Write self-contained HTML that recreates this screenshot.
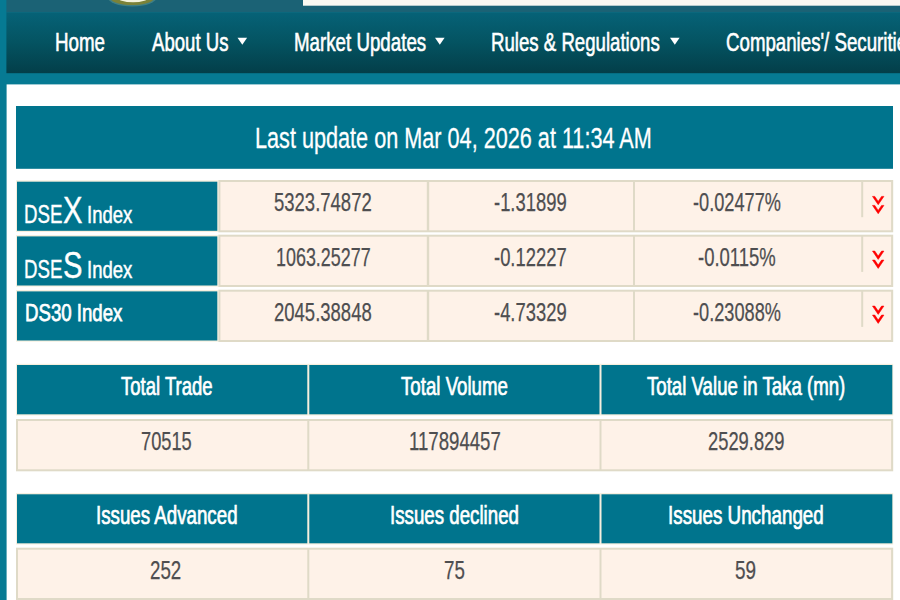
<!DOCTYPE html>
<html><head><meta charset="utf-8">
<style>
html,body{margin:0;padding:0;}
body{width:900px;height:600px;overflow:hidden;position:relative;background:#067a93;font-family:"Liberation Sans",sans-serif;}
svg.bg{position:absolute;left:0;top:0;}
.t{position:absolute;white-space:nowrap;transform-origin:0 0;line-height:1;}
.w{color:#fff;}
.g{color:#4e4e50;}
</style></head><body>
<svg class="bg" width="900" height="600" viewBox="0 0 900 600">
<defs><linearGradient id="ng" x1="0" y1="0" x2="0" y2="1"><stop offset="0" stop-color="#066277"/><stop offset="0.5" stop-color="#045361"/><stop offset="1" stop-color="#033e49"/></linearGradient></defs>
<rect x="6.4" y="0" width="893.60" height="12.50" fill="#1b6275"/>
<rect x="303" y="0" width="597.00" height="5.70" fill="#fbf9f2"/>
<ellipse cx="132.2" cy="-3" rx="24.8" ry="9.4" fill="#3f7f84"/><ellipse cx="132.2" cy="-3" rx="22.8" ry="8" fill="#7b8238"/><ellipse cx="133" cy="-3" rx="16" ry="5.3" fill="#f4f3dc"/>
<rect x="6.4" y="12.5" width="893.60" height="60.70" fill="url(#ng)"/>
<rect x="6.6" y="84.4" width="893.40" height="515.60" fill="#fff"/>
<path d="M237.5 37.8 h9.6 l-4.8 7 z" fill="#ffffff"/>
<path d="M435 37.8 h9.6 l-4.8 7 z" fill="#ffffff"/>
<path d="M670 37.8 h9.6 l-4.8 7 z" fill="#ffffff"/>
<rect x="16" y="106" width="877.00" height="62.80" fill="#00748d"/>
<rect x="16" y="180.3" width="202.00" height="51.70" fill="#f6efde"/>
<rect x="17" y="181.7" width="200.30" height="49.10" fill="#00748d"/>
<rect x="218.3" y="180" width="674.90" height="52.30" fill="#dfdac7"/>
<rect x="220.4" y="182" width="670.70" height="48.30" fill="#fef2e8"/>
<rect x="426.8" y="181" width="2.40" height="50.30" fill="#dfdac7"/>
<rect x="633" y="181" width="2.00" height="50.30" fill="#dfdac7"/>
<rect x="861.2" y="181" width="2.00" height="36.20" fill="#dfdac7"/>
<path transform="translate(871,195.5)" d="M1.5 0.9 h2.3 L7.2 5.90 L10.6 0.9 h2.3 L7.2 9.20 z M1.5 9.9 h2.3 L7.2 14.90 L10.6 9.9 h2.3 L7.2 18.20 z" fill="#ff0000" stroke="#ff0000" stroke-width="0.6" stroke-linejoin="round"/>
<rect x="16" y="235.0" width="202.00" height="51.70" fill="#f6efde"/>
<rect x="17" y="236.39999999999998" width="200.30" height="49.10" fill="#00748d"/>
<rect x="218.3" y="234.7" width="674.90" height="52.30" fill="#dfdac7"/>
<rect x="220.4" y="236.7" width="670.70" height="48.30" fill="#fef2e8"/>
<rect x="426.8" y="235.7" width="2.40" height="50.30" fill="#dfdac7"/>
<rect x="633" y="235.7" width="2.00" height="50.30" fill="#dfdac7"/>
<rect x="861.2" y="235.7" width="2.00" height="36.20" fill="#dfdac7"/>
<path transform="translate(871,250.2)" d="M1.5 0.9 h2.3 L7.2 5.90 L10.6 0.9 h2.3 L7.2 9.20 z M1.5 9.9 h2.3 L7.2 14.90 L10.6 9.9 h2.3 L7.2 18.20 z" fill="#ff0000" stroke="#ff0000" stroke-width="0.6" stroke-linejoin="round"/>
<rect x="16" y="290.0" width="202.00" height="51.70" fill="#f6efde"/>
<rect x="17" y="291.4" width="200.30" height="49.10" fill="#00748d"/>
<rect x="218.3" y="289.7" width="674.90" height="52.30" fill="#dfdac7"/>
<rect x="220.4" y="291.7" width="670.70" height="48.30" fill="#fef2e8"/>
<rect x="426.8" y="290.7" width="2.40" height="50.30" fill="#dfdac7"/>
<rect x="633" y="290.7" width="2.00" height="50.30" fill="#dfdac7"/>
<rect x="861.2" y="290.7" width="2.00" height="36.20" fill="#dfdac7"/>
<path transform="translate(871,305.2)" d="M1.5 0.9 h2.3 L7.2 5.90 L10.6 0.9 h2.3 L7.2 9.20 z M1.5 9.9 h2.3 L7.2 14.90 L10.6 9.9 h2.3 L7.2 18.20 z" fill="#ff0000" stroke="#ff0000" stroke-width="0.6" stroke-linejoin="round"/>
<rect x="16" y="363.8" width="877.20" height="51.70" fill="#f6efde"/>
<rect x="17" y="365" width="290.30" height="49.30" fill="#00748d"/>
<rect x="309.3" y="365" width="290.20" height="49.30" fill="#00748d"/>
<rect x="601.5" y="365" width="290.80" height="49.30" fill="#00748d"/>
<rect x="16" y="419" width="877.20" height="52.30" fill="#dfdac7"/>
<rect x="18" y="421" width="873.10" height="48.30" fill="#fef2e8"/>
<rect x="307.3" y="420" width="2.00" height="50.30" fill="#dfdac7"/>
<rect x="599.5" y="420" width="2.00" height="50.30" fill="#dfdac7"/>
<rect x="16" y="493.1" width="877.20" height="51.40" fill="#f6efde"/>
<rect x="17" y="494.3" width="290.30" height="49.00" fill="#00748d"/>
<rect x="309.3" y="494.3" width="290.20" height="49.00" fill="#00748d"/>
<rect x="601.5" y="494.3" width="290.80" height="49.00" fill="#00748d"/>
<rect x="16" y="547.7" width="877.20" height="52.30" fill="#dfdac7"/>
<rect x="18" y="549.7" width="873.10" height="48.30" fill="#fef2e8"/>
<rect x="307.3" y="548.7" width="2.00" height="50.30" fill="#dfdac7"/>
<rect x="599.5" y="548.7" width="2.00" height="50.30" fill="#dfdac7"/>
</svg>
<div class="t w" style="left:54.90px;top:29.39px;font-size:26.0px;transform:scaleX(0.7217);-webkit-text-stroke:0.62px currentColor;">Home</div>
<div class="t w" style="left:151.50px;top:29.39px;font-size:26.0px;transform:scaleX(0.7150);-webkit-text-stroke:0.62px currentColor;">About Us</div>
<div class="t w" style="left:293.70px;top:29.39px;font-size:26.0px;transform:scaleX(0.7202);-webkit-text-stroke:0.62px currentColor;">Market Updates</div>
<div class="t w" style="left:491.25px;top:29.39px;font-size:26.0px;transform:scaleX(0.7164);-webkit-text-stroke:0.62px currentColor;">Rules &amp; Regulations</div>
<div class="t w" style="left:726.25px;top:29.39px;font-size:26.0px;transform:scaleX(0.7185);-webkit-text-stroke:0.62px currentColor;">Companies'/ Securities</div>
<div class="t w" style="left:255.40px;top:123.20px;font-size:29.3px;transform:scaleX(0.7390);-webkit-text-stroke:0.3px currentColor;">Last update on Mar 04, 2026 at 11:34 AM</div>
<div class="t g" style="left:274.20px;top:190.17px;font-size:24.9px;transform:scaleX(0.7432);-webkit-text-stroke:0.25px currentColor;">5323.74872</div>
<div class="t g" style="left:493.80px;top:190.17px;font-size:24.9px;transform:scaleX(0.7392);-webkit-text-stroke:0.25px currentColor;">-1.31899</div>
<div class="t g" style="left:693.00px;top:190.17px;font-size:24.9px;transform:scaleX(0.7309);-webkit-text-stroke:0.25px currentColor;">-0.02477%</div>
<div class="t g" style="left:275.80px;top:244.87px;font-size:24.9px;transform:scaleX(0.7196);-webkit-text-stroke:0.25px currentColor;">1063.25277</div>
<div class="t g" style="left:493.80px;top:244.87px;font-size:24.9px;transform:scaleX(0.7392);-webkit-text-stroke:0.25px currentColor;">-0.12227</div>
<div class="t g" style="left:698.30px;top:244.87px;font-size:24.9px;transform:scaleX(0.7421);-webkit-text-stroke:0.25px currentColor;">-0.0115%</div>
<div class="t g" style="left:274.20px;top:299.87px;font-size:24.9px;transform:scaleX(0.7432);-webkit-text-stroke:0.25px currentColor;">2045.38848</div>
<div class="t g" style="left:493.80px;top:299.87px;font-size:24.9px;transform:scaleX(0.7392);-webkit-text-stroke:0.25px currentColor;">-4.73329</div>
<div class="t g" style="left:693.00px;top:299.87px;font-size:24.9px;transform:scaleX(0.7309);-webkit-text-stroke:0.25px currentColor;">-0.23088%</div>
<div class="t w" style="left:24.40px;top:202.33px;font-size:25.3px;transform:scaleX(0.7386);-webkit-text-stroke:0.4px currentColor;">DSE</div>
<div class="t w" style="left:62.60px;top:192.01px;font-size:37.5px;transform:scaleX(0.7779);-webkit-text-stroke:0.4px currentColor;">X</div>
<div class="t w" style="left:87.00px;top:203.43px;font-size:24px;transform:scaleX(0.7720);-webkit-text-stroke:0.5px currentColor;">Index</div>
<div class="t w" style="left:24.40px;top:257.03px;font-size:25.3px;transform:scaleX(0.7386);-webkit-text-stroke:0.4px currentColor;">DSE</div>
<div class="t w" style="left:62.60px;top:246.71px;font-size:37.5px;transform:scaleX(0.7779);-webkit-text-stroke:0.4px currentColor;">S</div>
<div class="t w" style="left:87.00px;top:258.13px;font-size:24px;transform:scaleX(0.7720);-webkit-text-stroke:0.5px currentColor;">Index</div>
<div class="t w" style="left:24.60px;top:300.76px;font-size:24.5px;transform:scaleX(0.7609);-webkit-text-stroke:0.75px currentColor;">DS30 Index</div>
<div class="t w" style="left:121.15px;top:373.84px;font-size:25px;transform:scaleX(0.7405);-webkit-text-stroke:0.7px currentColor;">Total Trade</div>
<div class="t w" style="left:401.10px;top:373.84px;font-size:25px;transform:scaleX(0.7469);-webkit-text-stroke:0.7px currentColor;">Total Volume</div>
<div class="t w" style="left:646.90px;top:373.84px;font-size:25px;transform:scaleX(0.7458);-webkit-text-stroke:0.7px currentColor;">Total Value in Taka (mn)</div>
<div class="t g" style="left:141.25px;top:429.17px;font-size:24.9px;transform:scaleX(0.7331);-webkit-text-stroke:0.25px currentColor;">70515</div>
<div class="t g" style="left:409.10px;top:429.17px;font-size:24.9px;transform:scaleX(0.7478);-webkit-text-stroke:0.25px currentColor;">117894457</div>
<div class="t g" style="left:707.50px;top:429.17px;font-size:24.9px;transform:scaleX(0.7368);-webkit-text-stroke:0.25px currentColor;">2529.829</div>
<div class="t w" style="left:95.65px;top:503.14px;font-size:25px;transform:scaleX(0.7489);-webkit-text-stroke:0.7px currentColor;">Issues Advanced</div>
<div class="t w" style="left:389.90px;top:503.14px;font-size:25px;transform:scaleX(0.7484);-webkit-text-stroke:0.7px currentColor;">Issues declined</div>
<div class="t w" style="left:667.90px;top:503.14px;font-size:25px;transform:scaleX(0.7522);-webkit-text-stroke:0.7px currentColor;">Issues Unchanged</div>
<div class="t g" style="left:150.00px;top:557.87px;font-size:24.9px;transform:scaleX(0.7515);-webkit-text-stroke:0.25px currentColor;">252</div>
<div class="t g" style="left:443.70px;top:557.87px;font-size:24.9px;transform:scaleX(0.7526);-webkit-text-stroke:0.25px currentColor;">75</div>
<div class="t g" style="left:735.00px;top:557.87px;font-size:24.9px;transform:scaleX(0.7598);-webkit-text-stroke:0.25px currentColor;">59</div>
</body></html>
